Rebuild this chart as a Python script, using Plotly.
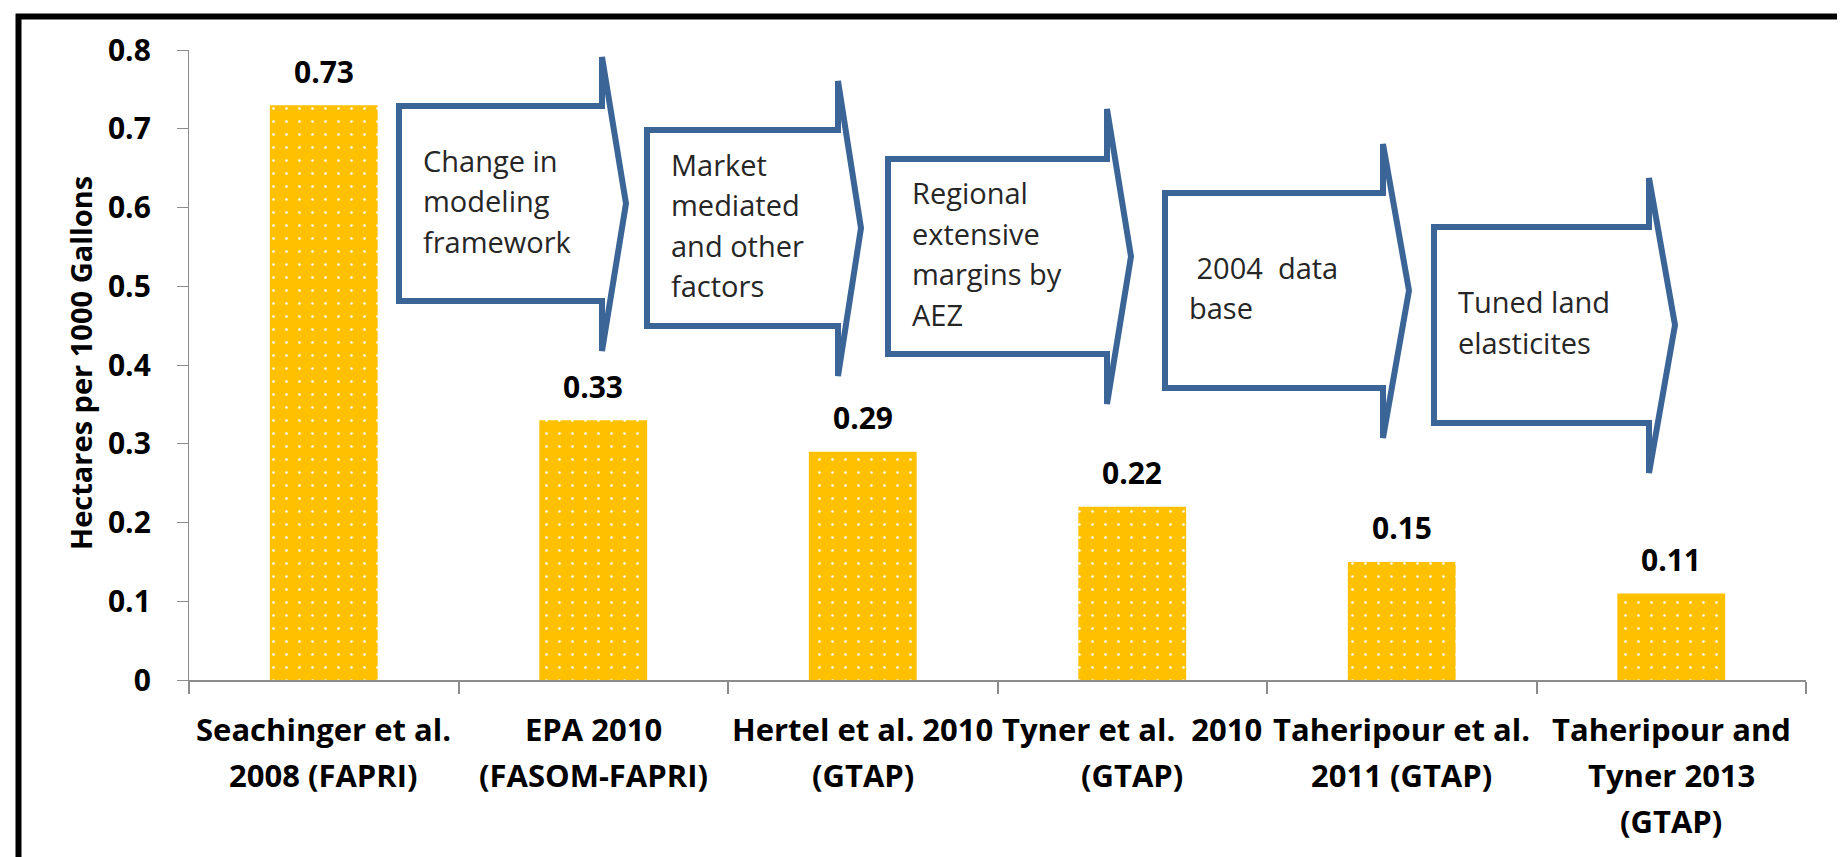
import plotly.graph_objects as go

# ---------------- data ----------------
categories = [
    "Seachinger et al.\n2008 (FAPRI)",
    "EPA 2010\n(FASOM-FAPRI)",
    "Hertel et al. 2010\n(GTAP)",
    "Tyner et al.\u00a0\u00a02010\n(GTAP)",
    "Taheripour et al.\n2011 (GTAP)",
    "Taheripour and\nTyner 2013\n(GTAP)",
]
values = [0.73, 0.33, 0.29, 0.22, 0.15, 0.11]
value_labels = ["0.73", "0.33", "0.29", "0.22", "0.15", "0.11"]
y_ticks = [0, 0.1, 0.2, 0.3, 0.4, 0.5, 0.6, 0.7, 0.8]
y_tick_labels = ["0", "0.1", "0.2", "0.3", "0.4", "0.5", "0.6", "0.7", "0.8"]
y_title = "Hectares per 1000 Gallons"
arrow_texts = [
    ["Change in", "modeling", "framework"],
    ["Market", "mediated", "and other", "factors"],
    ["Regional", "extensive", "margins by", "AEZ"],
    ["\u00a02004\u00a0\u00a0data", "base"],
    ["Tuned land", "elasticites"],
]

# ---------------- layout geometry (pixels) ----------------
W, H = 1845, 857
DX, DY = -6, -7                      # global placement of the plot block
L0, R0, T0, B0 = 187, 1804, 49, 679  # plot area before placement shift
L, R, T, B = L0 + DX, R0 + DX, T0 + DY, B0 + DY
PW, PH = R - L, B - T


def px(x):
    """x in block coordinates -> paper"""
    return (x - L0) / PW


def py(y):
    """y in block coordinates -> paper"""
    return (B0 - y) / PH


def pxa(x):
    """absolute x pixel -> paper"""
    return (x - L) / PW


def pya(y):
    """absolute y pixel -> paper"""
    return (B - y) / PH


# arrow outlines: left, top, bottom, neck, head-top, head-bottom, tip
arrow_geom = [
    (397, 105, 300, 600, 56, 350, 624),
    (645, 129, 325, 836, 80, 375, 859),
    (886, 158, 353, 1105, 108, 403, 1129),
    (1163, 192, 387, 1381, 143, 437, 1407),
    (1432, 226, 422, 1647, 177, 472, 1673),
]

BAR_COLOR = "#FFC000"
ARROW_COLOR = "#3B6597"
AXIS_COLOR = "#8C8C8C"
BOLD = "Open Sans"

fig = go.Figure()
fig.add_trace(go.Bar(
    x=categories,
    y=values,
    width=0.4,
    marker=dict(
        color=BAR_COLOR,
        line=dict(width=0),
        pattern=dict(shape=".", bgcolor=BAR_COLOR, fgcolor="white",
                     fgopacity=1, size=13, solidity=0.032),
    ),
    hoverinfo="skip",
))

annotations = []
# data labels
for c, v, lab in zip(categories, values, value_labels):
    annotations.append(dict(
        x=c, y=v, xref="x", yref="y", text="<b>%s</b>" % lab, showarrow=False,
        yanchor="middle", xanchor="center", yshift=34,
        font=dict(family=BOLD, size=30, color="#000000"),
    ))
# category labels (one annotation per line for Excel-like line spacing)
for c in categories:
    for i, line in enumerate(c.split("\n")):
        annotations.append(dict(
            x=c, y=0, xref="x", yref="paper", text="<b>%s</b>" % line,
            showarrow=False, xanchor="center", yanchor="middle",
            yshift=-(49 + 46 * i),
            font=dict(family=BOLD, size=31, color="#000000"),
        ))
# y-axis title
annotations.append(dict(
    x=px(78), y=py(362), xref="paper", yref="paper",
    text="<b>%s</b>" % y_title, textangle=-90, showarrow=False,
    xanchor="center", yanchor="middle",
    font=dict(family=BOLD, size=29, color="#000000"),
))

shapes = []
# arrows
for (lft, top, bot, neck, ht, hb, tip), lines in zip(arrow_geom, arrow_texts):
    mid = (top + bot) / 2
    pts = [(lft, top), (neck, top), (neck, ht), (tip, mid), (neck, hb),
           (neck, bot), (lft, bot)]
    path = "M " + " L ".join("%.5f,%.5f" % (px(a), py(b)) for a, b in pts) + " Z"
    shapes.append(dict(type="path", xref="paper", yref="paper", path=path,
                       line=dict(color=ARROW_COLOR, width=6),
                       fillcolor="white", layer="above"))
    spacing = 40.5
    n = len(lines)
    for i, line in enumerate(lines):
        yc = mid - 3 + (i - (n - 1) / 2) * spacing
        annotations.append(dict(
            x=px(lft + 22), y=py(yc), xref="paper", yref="paper",
            text=line, showarrow=False, xanchor="left", yanchor="middle",
            font=dict(family="Open Sans", size=29, color="#262626"),
        ))

# outer black frame (bottom edge lies beyond the picture)
fpts = [(10.5, 900), (10.5, 8.5), (1839, 8.5), (1839, 900)]
fpath = "M " + " L ".join("%.5f,%.5f" % (pxa(a), pya(b)) for a, b in fpts)
shapes.append(dict(type="path", xref="paper", yref="paper", path=fpath,
                   line=dict(color="#000000", width=6), layer="above"))

fig.update_layout(
    width=W, height=H,
    margin=dict(l=L, r=W - R, t=T, b=H - B, autoexpand=False),
    paper_bgcolor="white", plot_bgcolor="white",
    showlegend=False,
    bargap=0.6,
    annotations=annotations,
    shapes=shapes,
    xaxis=dict(
        type="category", showgrid=False, zeroline=False,
        showline=True, linecolor=AXIS_COLOR, linewidth=1.6,
        ticks="outside", tickson="boundaries", ticklen=12,
        tickcolor=AXIS_COLOR, tickwidth=1.5, showticklabels=False,
        fixedrange=True,
    ),
    yaxis=dict(
        range=[0, 0.8], tickmode="array", tickvals=y_ticks, ticktext=y_tick_labels,
        showgrid=False, zeroline=False, showline=True, linecolor=AXIS_COLOR,
        linewidth=1.3, ticks="outside", ticklen=11, tickcolor=AXIS_COLOR,
        tickwidth=1.3, ticklabelstandoff=20,
        tickfont=dict(family=BOLD, size=30, color="#000000", weight="bold"),
        fixedrange=True,
    ),
)

fig.write_html("out.html", config={"displayModeBar": False})
